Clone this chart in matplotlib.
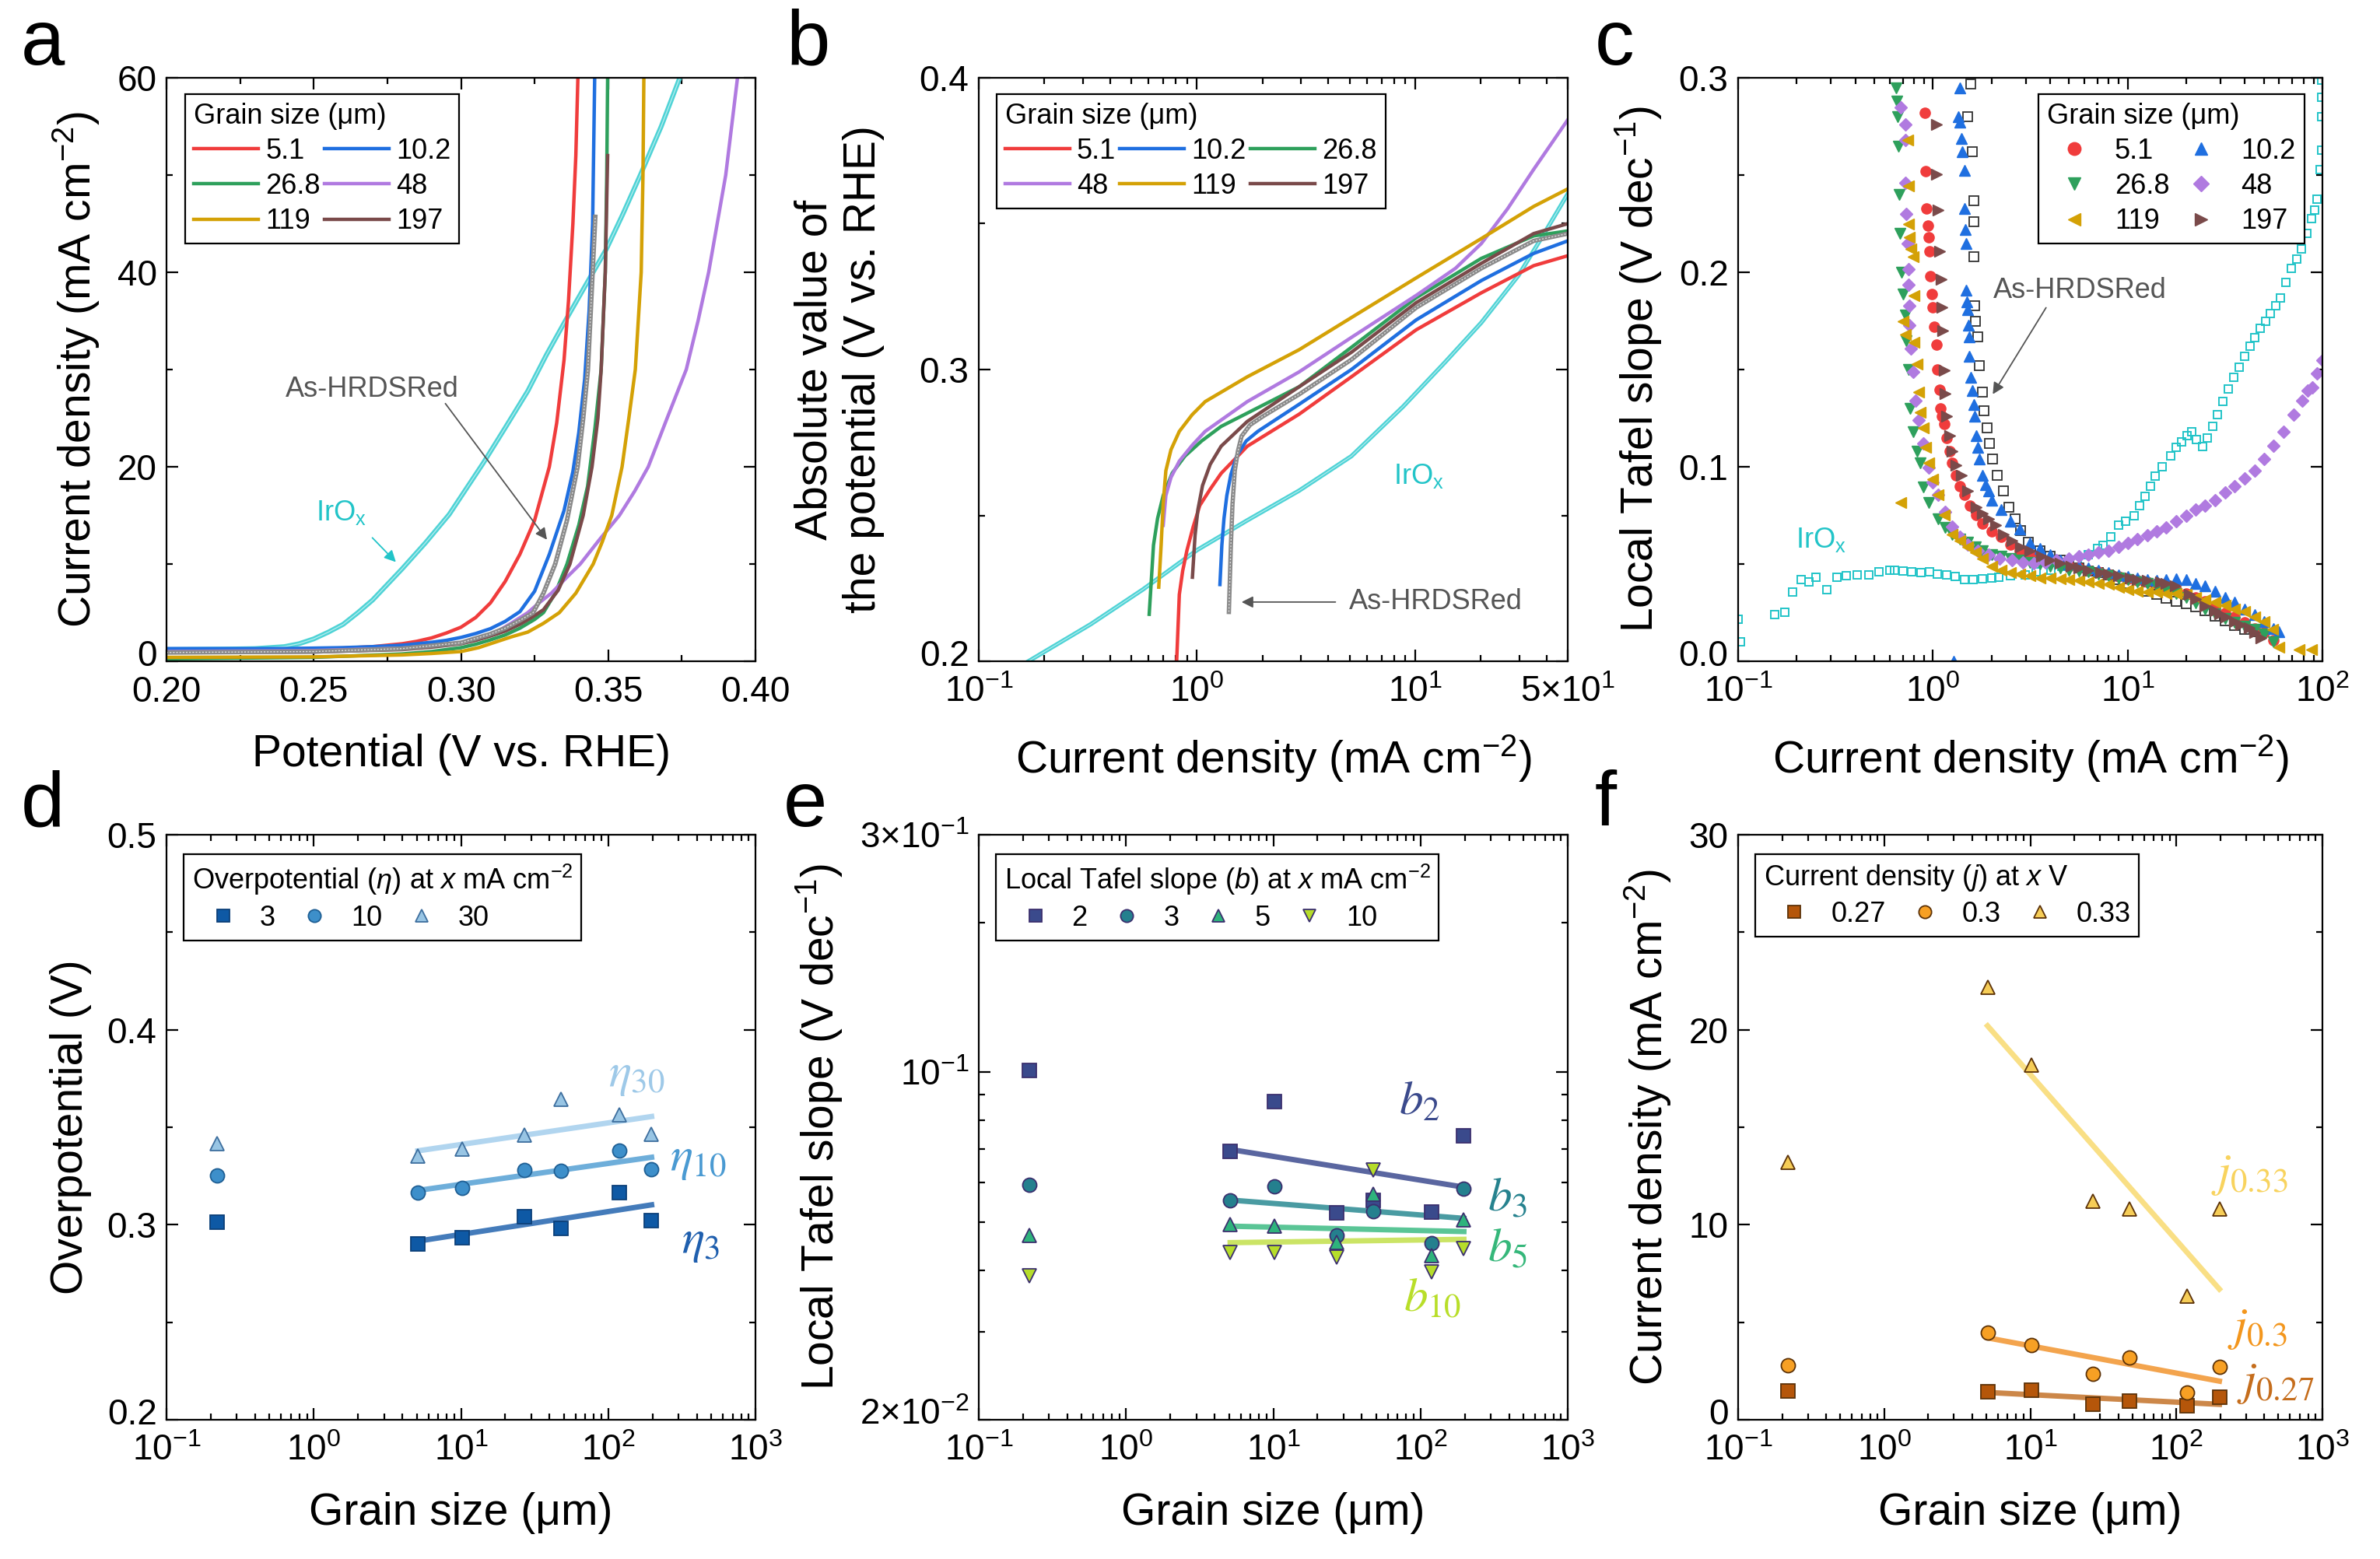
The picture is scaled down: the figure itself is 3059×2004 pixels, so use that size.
import numpy as np
import matplotlib
matplotlib.use("Agg")
import matplotlib.pyplot as plt
from matplotlib.ticker import MultipleLocator, FixedLocator, FixedFormatter, LogLocator, NullFormatter
from matplotlib.transforms import ScaledTranslation

plt.rcParams['font.family'] = ['Liberation Sans', 'DejaVu Sans']
plt.rcParams['mathtext.fontset'] = 'custom'
plt.rcParams['mathtext.rm'] = 'Liberation Sans'
plt.rcParams['mathtext.it'] = 'Liberation Sans:italic'
plt.rcParams['mathtext.bf'] = 'Liberation Sans:bold'

# ---------------- data ----------------
grain_labels = ['5.1', '10.2', '26.8', '48', '119', '197']
grain_colors = ['#f03c3c', '#1f6fe0', '#2ea05c', '#b07ae0', '#d4a106', '#7a4a4a']

# (a) LSV: potential (V vs RHE) and current density (mA cm-2)
lsv_v_51 = [0.20, 0.22, 0.24, 0.26, 0.27, 0.28, 0.285, 0.29, 0.295, 0.30, 0.305, 0.31, 0.315, 0.32, 0.325, 0.33,
            0.3325, 0.335, 0.3365, 0.338, 0.339, 0.3397]
lsv_j_51 = [1.2, 1.2, 1.25, 1.35, 1.5, 1.8, 2.05, 2.4, 2.9, 3.5, 4.5, 6.0, 8.2, 11.0, 14.5, 20, 24.5, 31, 37, 45,
            52, 60]
lsv_v_102 = [0.20, 0.24, 0.26, 0.27, 0.28, 0.29, 0.295, 0.30, 0.305, 0.31, 0.315, 0.32, 0.325, 0.33, 0.335, 0.338,
             0.340, 0.342, 0.3435, 0.3447, 0.3454]
lsv_j_102 = [1.3, 1.3, 1.4, 1.5, 1.65, 1.95, 2.15, 2.45, 2.85, 3.35, 4.1, 5.1, 7.2, 11.0, 15.5, 19.5, 23.5, 29, 36,
             45, 60]
lsv_v_268 = [0.20, 0.25, 0.28, 0.29, 0.30, 0.305, 0.31, 0.315, 0.32, 0.325, 0.328, 0.332, 0.336, 0.340, 0.343,
             0.3455, 0.3476, 0.349, 0.3495, 0.3498]
lsv_j_268 = [0.25, 0.4, 0.75, 1.0, 1.4, 1.75, 2.2, 2.7, 3.4, 4.3, 5.0, 7.0, 10, 14, 18, 24, 30, 40, 50, 60]
lsv_v_48 = [0.20, 0.25, 0.28, 0.29, 0.30, 0.306, 0.312, 0.317, 0.3227, 0.3265, 0.3307, 0.3355, 0.3405, 0.347,
            0.3538, 0.3590, 0.3636, 0.370, 0.3765, 0.3805, 0.3841, 0.3870, 0.3899, 0.3939]
lsv_j_48 = [1.0, 1.1, 1.35, 1.6, 1.9, 2.4, 3.0, 3.9, 5.0, 6.0, 7.0, 8.5, 10, 12.5, 15, 17.5, 20, 25, 30, 35, 40, 45,
            50, 60]
lsv_v_119 = [0.20, 0.25, 0.28, 0.29, 0.30, 0.306, 0.312, 0.317, 0.3227, 0.328, 0.3334, 0.339, 0.3449, 0.348,
             0.3512, 0.3547, 0.357, 0.3592, 0.3612, 0.3618, 0.3621]
lsv_j_119 = [0.4, 0.45, 0.65, 0.8, 1.0, 1.4, 2.0, 2.5, 3.0, 3.9, 5.0, 7.0, 10, 12.3, 15, 20, 25, 30, 40, 50, 60]
lsv_v_197 = [0.20, 0.25, 0.28, 0.29, 0.30, 0.305, 0.31, 0.315, 0.32, 0.324, 0.328, 0.333, 0.337, 0.3415, 0.3445,
             0.3465, 0.3476, 0.349, 0.3498]
lsv_j_197 = [0.9, 0.95, 1.2, 1.45, 1.8, 2.15, 2.6, 3.1, 3.8, 4.5, 5.3, 7.3, 10, 15, 20, 25, 30, 40, 52]
lsv_v_asr = [0.20, 0.25, 0.28, 0.30, 0.31, 0.315, 0.32, 0.3245, 0.328, 0.332, 0.336, 0.3396, 0.3415, 0.3431,
             0.3447, 0.3456]
lsv_j_asr = [0.9, 1.0, 1.3, 1.9, 2.8, 3.4, 4.2, 5.0, 7.0, 10, 14.5, 20, 25, 30, 40, 45.7]
lsv_v_irox = [0.20, 0.22, 0.23, 0.24, 0.245, 0.25, 0.255, 0.26, 0.265, 0.27, 0.275, 0.28, 0.288, 0.296, 0.3076,
              0.315, 0.3227, 0.329, 0.3356, 0.342, 0.3494, 0.355, 0.3609, 0.368, 0.3743]
lsv_j_irox = [1.2, 1.25, 1.3, 1.5, 1.8, 2.3, 3.0, 3.8, 5.0, 6.3, 7.9, 9.5, 12.2, 15.1, 20.4, 24.0, 27.8, 31.5,
              35.1, 38.5, 42.4, 46, 50, 55, 60]

# (b) Tafel: current density and |potential|
taf_j_51 = [0.807, 0.83, 0.86, 0.90, 0.96, 1.03, 1.15, 1.29, 1.70, 2.94, 5.1, 10.1, 20.1, 34.9, 50]
taf_v_51 = [0.200, 0.2229, 0.231, 0.2381, 0.246, 0.2534, 0.259, 0.2644, 0.2737, 0.2847, 0.2975, 0.3136, 0.3263,
            0.3356, 0.339]
taf_j_102 = [1.274, 1.30, 1.33, 1.37, 1.43, 1.52, 1.68, 1.90, 2.94, 5.1, 10.1, 20.1, 34.9, 50]
taf_v_102 = [0.2263, 0.2398, 0.249, 0.2568, 0.264, 0.2703, 0.2755, 0.2788, 0.2881, 0.300, 0.317, 0.3305, 0.3398,
             0.3441]
taf_j_268 = [0.604, 0.632, 0.66, 0.70, 0.77, 0.88, 1.05, 1.29, 2.94, 5.1, 10.1, 20.1, 34.9, 50]
taf_v_268 = [0.2161, 0.2398, 0.249, 0.2568, 0.2645, 0.2703, 0.2755, 0.2805, 0.2941, 0.3076, 0.3246, 0.3381,
             0.3458, 0.3475]
taf_j_48 = [0.70, 0.72, 0.76, 0.83, 0.95, 1.09, 1.70, 2.94, 5.1, 10.1, 15.3, 20.1, 26.5, 34.9, 50]
taf_v_48 = [0.2466, 0.2568, 0.263, 0.2686, 0.274, 0.2788, 0.289, 0.2992, 0.311, 0.3254, 0.3347, 0.3432, 0.3551,
            0.3686, 0.3856]
taf_j_119 = [0.668, 0.685, 0.70, 0.72, 0.76, 0.83, 0.95, 1.09, 1.70, 2.94, 5.1, 10.1, 20.1, 34.9, 50]
taf_v_119 = [0.2254, 0.2398, 0.254, 0.2653, 0.2725, 0.2788, 0.2845, 0.289, 0.2975, 0.3068, 0.3178, 0.3314, 0.3449,
             0.3559, 0.3619]
taf_j_197 = [0.953, 0.98, 1.01, 1.06, 1.15, 1.29, 1.70, 2.94, 5.1, 10.1, 20.1, 34.9, 50]
taf_v_197 = [0.2288, 0.2432, 0.252, 0.2602, 0.2675, 0.2737, 0.2822, 0.2941, 0.3059, 0.3229, 0.3364, 0.3466, 0.350]
taf_j_asr = [1.40, 1.43, 1.455, 1.49, 1.54, 1.60, 1.75, 2.00, 2.94, 5.1, 10.1, 20.1, 34.9, 50]
taf_v_asr = [0.2169, 0.2398, 0.254, 0.2653, 0.272, 0.2771, 0.281, 0.2839, 0.2915, 0.3034, 0.3212, 0.3347, 0.3441,
             0.3466]
taf_j_irox = [0.169, 0.326, 0.565, 1.0, 1.70, 2.94, 5.1, 8.8, 13.7, 20.1, 29.7, 39, 50]
taf_v_irox = [0.200, 0.2127, 0.2246, 0.2381, 0.2483, 0.2585, 0.2703, 0.2873, 0.3025, 0.3161, 0.3322, 0.3466, 0.3602]

# (c) local Tafel slope vs current density
lts_j_51 = [0.906, 0.92, 0.93, 0.94, 0.95, 0.96, 0.97, 0.99, 1.0, 1.02, 1.04, 1.05, 1.08, 1.09, 1.11, 1.14, 1.18,
            1.22, 1.26, 1.31, 1.38, 1.45, 1.55, 1.67, 1.8,
            2, 2.25, 2.5, 2.8, 3.15, 3.55, 4, 4.5, 5, 5.6, 6.3, 7.1, 8, 9, 10, 11.2, 12.6, 14.1, 15.8, 17.8,
            20, 22.4, 25, 28, 31.6, 35.5, 40, 45, 50, 56]
lts_b_51 = [0.282, 0.252, 0.233, 0.224, 0.218, 0.211, 0.198, 0.189, 0.182, 0.172, 0.163, 0.150, 0.1395, 0.130, 0.126,
            0.122, 0.115, 0.108, 0.102, 0.0957, 0.090, 0.0855, 0.080, 0.0754, 0.071,
            0.067, 0.064, 0.060, 0.057, 0.055, 0.053, 0.052, 0.051, 0.049, 0.048, 0.047, 0.046, 0.045, 0.0435, 0.0425,
            0.0415, 0.041, 0.040, 0.038, 0.037, 0.035, 0.033, 0.031, 0.028, 0.025, 0.023, 0.020, 0.017, 0.015, 0.011]
lts_j_102 = [1.28, 1.38, 1.356, 1.38, 1.40, 1.42, 1.45, 1.45, 1.47, 1.48, 1.48, 1.50, 1.51, 1.52, 1.53, 1.53, 1.56,
             1.59, 1.62, 1.64, 1.67, 1.70, 1.73, 1.79, 1.86, 1.93,
             2, 2.25, 2.5, 2.8, 3.15, 3.55, 4, 4.5, 5, 5.6, 6.3, 7.1, 8, 9, 10, 11.2, 12.6, 14.1, 15.8, 17.8,
             20, 22.4, 25, 28, 31.6, 35.5, 40, 45, 50, 56, 60]
lts_b_102 = [0.0, 0.295, 0.280, 0.277, 0.269, 0.262, 0.2526, 0.233, 0.222, 0.215, 0.191, 0.185, 0.181, 0.173, 0.167,
             0.157, 0.146, 0.139, 0.132, 0.126, 0.116, 0.110, 0.104, 0.0957, 0.091, 0.0876,
             0.083, 0.078, 0.072, 0.068, 0.061, 0.058, 0.055, 0.052, 0.050, 0.049, 0.048, 0.047, 0.0455, 0.0445,
             0.0438, 0.043, 0.042, 0.0418, 0.042, 0.0425, 0.042, 0.040, 0.0387, 0.036, 0.033, 0.0306, 0.027, 0.024,
             0.0204, 0.017, 0.0153]
lts_j_268 = [0.65, 0.656, 0.66, 0.665, 0.67, 0.68, 0.69, 0.70, 0.72, 0.73, 0.75, 0.766, 0.79, 0.83, 0.86, 0.89, 0.955,
             1.06, 1.15, 1.26, 1.38, 1.51, 1.65, 1.79,
             2, 2.25, 2.5, 2.8, 3.15, 3.55, 4, 4.5, 5, 5.6, 6.3, 7.1, 8, 9, 10, 11.2, 12.6, 14.1, 15.8, 17.8,
             20, 22.4, 25, 28, 31.6, 35.5, 40, 45, 50, 56]
lts_b_268 = [0.295, 0.288, 0.280, 0.265, 0.24, 0.22, 0.20, 0.189, 0.178, 0.165, 0.150, 0.130, 0.118, 0.108, 0.102,
             0.0896, 0.0815, 0.0733, 0.069, 0.0652, 0.063, 0.0611, 0.059, 0.057,
             0.055, 0.054, 0.053, 0.052, 0.051, 0.050, 0.049, 0.048, 0.047, 0.0465, 0.046, 0.045, 0.044, 0.043,
             0.042, 0.041, 0.040, 0.0387, 0.037, 0.035, 0.033, 0.030, 0.027, 0.0244, 0.022, 0.020, 0.018, 0.0163,
             0.014, 0.0102]
lts_j_48 = [0.685, 0.72, 0.72, 0.72, 0.73, 0.74, 0.75, 0.75, 0.755, 0.76, 0.774, 0.79, 0.816, 0.845, 0.89, 0.955,
            1.0, 1.06, 1.15, 1.26, 1.38, 1.51, 1.7, 1.93,
            2.2, 2.55, 2.9, 3.3, 3.8, 4.3, 5, 5.6, 6.3, 7.1, 8, 9, 10, 11.2, 12.6, 14.1, 15.8, 17.8, 20, 22.4,
            25, 28, 31.6, 35.5, 40, 45, 50, 56, 63, 71, 79, 84, 89, 94, 100]
lts_b_48 = [0.285, 0.276, 0.268, 0.246, 0.230, 0.215, 0.2016, 0.1935, 0.183, 0.173, 0.161, 0.149, 0.134, 0.124,
            0.112, 0.0998, 0.092, 0.0855, 0.077, 0.0693, 0.064, 0.060, 0.057, 0.055,
            0.053, 0.052, 0.051, 0.0505, 0.051, 0.052, 0.053, 0.054, 0.055, 0.056, 0.057, 0.059, 0.061, 0.063,
            0.065, 0.067, 0.069, 0.072, 0.075, 0.078, 0.080, 0.083, 0.087, 0.090, 0.094, 0.098, 0.104, 0.111,
            0.118, 0.127, 0.134, 0.139, 0.141, 0.148, 0.155]
lts_j_119 = [0.685, 0.74, 0.75, 0.75, 0.76, 0.77, 0.79, 0.80, 0.70, 0.72, 0.80, 0.83, 0.845, 0.86, 0.89, 0.92, 0.955,
             1.0, 1.06, 1.14, 1.26, 1.38, 1.51, 1.65, 1.79,
             2, 2.25, 2.5, 2.8, 3.15, 3.55, 4, 4.5, 5, 5.6, 6.3, 7.1, 8, 9, 10, 11.2, 12.6, 14.1, 15.8, 17.8,
             20, 22.4, 25, 28, 31.6, 35.5, 40, 45, 50, 55.6, 59.7, 76, 87.7]
lts_b_119 = [0.0815, 0.268, 0.2444, 0.225, 0.218, 0.212, 0.208, 0.188, 0.175, 0.168, 0.164, 0.153, 0.1385, 0.128,
             0.120, 0.110, 0.102, 0.0937, 0.0855, 0.0754, 0.0652, 0.062, 0.059, 0.056, 0.053,
             0.049, 0.047, 0.0458, 0.045, 0.044, 0.043, 0.0428, 0.0425, 0.042, 0.0418, 0.041, 0.040, 0.0397,
             0.038, 0.0367, 0.036, 0.0356, 0.0355, 0.035, 0.0348, 0.0346, 0.033, 0.0315, 0.0306, 0.029, 0.027,
             0.0255, 0.023, 0.0204, 0.0163, 0.0071, 0.0061, 0.0061]
lts_j_197 = [1.04, 1.04, 1.06, 1.08, 1.10, 1.11, 1.12, 1.14, 1.16, 1.18, 1.22, 1.26, 1.31, 1.40, 1.51, 1.67, 1.8, 1.93,
             2.1, 2.3, 2.55, 2.83, 3.15, 3.62, 4, 4.5, 5.13, 5.6, 6.3, 7.3, 8, 9, 10.3, 11.2, 12.6, 14.7, 15.8, 17.5,
             20.8, 22.4, 24.9, 28, 29.6, 32, 35.3, 38, 42, 45, 48.3]
lts_b_197 = [0.276, 0.2505, 0.232, 0.211, 0.1966, 0.182, 0.170, 0.1497, 0.1375, 0.126, 0.116, 0.108, 0.1008, 0.0957,
             0.0876, 0.0794, 0.076, 0.0733,
             0.070, 0.0652, 0.062, 0.059, 0.057, 0.054, 0.052, 0.0505, 0.0489, 0.048, 0.047, 0.0458, 0.045, 0.044,
             0.0428, 0.042, 0.0415, 0.0407, 0.040, 0.0387, 0.0346, 0.032, 0.0285, 0.026, 0.0244, 0.023, 0.0204,
             0.019, 0.0173, 0.015, 0.0122]
lts_j_asr = [1.57, 1.51, 1.59, 1.62, 1.63, 1.62, 1.64, 1.66, 1.70, 1.73, 1.79, 1.83, 1.89, 1.96, 2.03, 2.14, 2.30,
             2.46, 2.64, 2.83, 3.09,
             3.55, 4, 4.5, 5, 5.6, 6.3, 7.1, 8, 9, 10, 11.2, 12.6, 14.1, 15.8, 17.8, 20, 22.4, 25, 28, 31.6, 35.5,
             40, 45]
lts_b_asr = [0.297, 0.280, 0.262, 0.237, 0.226, 0.208, 0.183, 0.175, 0.167, 0.152, 0.1385, 0.129, 0.120, 0.112,
             0.104, 0.0957, 0.0876, 0.0794, 0.0733, 0.0672, 0.0611,
             0.057, 0.054, 0.052, 0.0495, 0.048, 0.0465, 0.0455, 0.0445, 0.042, 0.040, 0.038, 0.036, 0.0346,
             0.0326, 0.031, 0.0295, 0.028, 0.026, 0.0234, 0.021, 0.0183, 0.0165, 0.0153]
lts_j_irox = [0.1, 0.103, 0.154, 0.174, 0.191, 0.21, 0.23, 0.252, 0.285, 0.323, 0.36, 0.41, 0.467, 0.53, 0.6, 0.636,
              0.7, 0.78, 0.866, 0.96, 1.05, 1.18, 1.3, 1.45, 1.61, 1.8, 2.0, 2.18, 2.5, 2.97, 3.4, 4.04, 4.6, 5.5,
              6.3, 7.0, 7.5, 8.2, 9.0, 9.8, 10.8, 11.5, 12.3, 13.1, 13.9, 15, 16.7, 17.8, 18.9, 20.2, 21.4, 22.6,
              24.2, 25.7, 27.3, 29, 30.9, 33, 35, 37.3, 40, 42.5, 45, 48, 51, 54, 57.5, 61, 65, 69, 73.5, 78, 83,
              88, 91, 94, 97, 99, 99, 99, 99.5]
lts_b_irox = [0.0216, 0.0102, 0.0242, 0.0254, 0.0356, 0.042, 0.041, 0.0432, 0.0369, 0.0432, 0.044, 0.0445, 0.0445,
              0.046, 0.047, 0.047, 0.0465, 0.046, 0.0458, 0.046, 0.045, 0.0445, 0.0435, 0.042, 0.042, 0.0425, 0.043,
              0.0432, 0.044, 0.0445, 0.046, 0.047, 0.049, 0.0521, 0.055, 0.058, 0.0598, 0.064, 0.07, 0.072, 0.075,
              0.08, 0.085, 0.09, 0.0953, 0.10, 0.1055, 0.11, 0.113, 0.116, 0.118, 0.114, 0.1106, 0.115, 0.1208,
              0.127, 0.1335, 0.14, 0.146, 0.1513, 0.157, 0.162, 0.1665, 0.171, 0.175, 0.179, 0.183, 0.187, 0.195,
              0.202, 0.207, 0.212, 0.22, 0.2276, 0.232, 0.2377, 0.253, 0.263, 0.28, 0.29, 0.2988]

# (d)-(f) values vs grain size (0.22 um = As-HRDSRed)
grain_size = [0.22, 5.1, 10.2, 26.8, 48, 119, 197]
fit_x = [5.1, 197]

eta_3 = [0.3013, 0.2903, 0.2934, 0.3043, 0.298, 0.3163, 0.3023]
eta_10 = [0.3254, 0.3163, 0.319, 0.3282, 0.3277, 0.338, 0.3285]
eta_30 = [0.3415, 0.3354, 0.339, 0.346, 0.3644, 0.3563, 0.3466]
eta_3_fit = [0.2916, 0.3102]
eta_10_fit = [0.3176, 0.3346]
eta_30_fit = [0.3379, 0.3555]

b_2 = [0.1007, 0.0693, 0.0871, 0.0522, 0.0553, 0.0523, 0.0744]
b_3 = [0.0593, 0.0553, 0.059, 0.047, 0.0525, 0.0453, 0.0583]
b_5 = [0.0469, 0.0493, 0.049, 0.0454, 0.0568, 0.0427, 0.0504]
b_10 = [0.0389, 0.0434, 0.0434, 0.0424, 0.0635, 0.0397, 0.0441]
b_2_fit = [0.0699, 0.0587]
b_3_fit = [0.0553, 0.0508]
b_5_fit = [0.049, 0.0478]
b_10_fit = [0.0454, 0.0461]

j_027 = [1.48, 1.42, 1.53, 0.79, 0.97, 0.71, 1.15]
j_030 = [2.8, 4.45, 3.82, 2.37, 3.21, 1.4, 2.7]
j_033 = [13.2, 22.2, 18.2, 11.2, 10.8, 6.36, 10.8]
j_027_fit = [1.4, 0.79]
j_030_fit = [4.2, 1.98]
j_033_fit = [20.2, 6.7]

# ---------------- figure ----------------
fig = plt.figure(figsize=(30.59, 20.04), dpi=100)
W, H = 3059, 2004


def px_axes(x0, y0, x1, y1):
    return fig.add_axes([x0 / W, 1 - y1 / H, (x1 - x0) / W, (y1 - y0) / H])


ax_a = px_axes(214, 100, 971, 850)
ax_b = px_axes(1258, 100, 2015, 850)
ax_c = px_axes(2234, 100, 2985, 850)
ax_d = px_axes(214, 1073, 971, 1825)
ax_e = px_axes(1258, 1073, 2015, 1825)
ax_f = px_axes(2234, 1073, 2985, 1825)

TICK_FS = 33
LABEL_FS = 41
LEG_FS = 26
XPAD = 22
YPAD = 14
GREY = '#555555'
CYAN = '#22c4c8'


def style(ax):
    ax.tick_params(which='both', direction='in', top=True, right=True, width=1.6, labelsize=TICK_FS)
    ax.tick_params(which='major', length=11)
    ax.tick_params(which='minor', length=6)
    ax.tick_params(axis='x', pad=13)
    ax.tick_params(axis='y', pad=9)
    for s in ax.spines.values():
        s.set_linewidth(1.6)
    # lift the lowest y tick label a little so it clears the first x tick label
    first = ax.yaxis.get_major_ticks()[0]
    first.label1.set_transform(first.label1.get_transform() + ScaledTranslation(0, 8 / 72, fig.dpi_scale_trans))


def log_x(ax, lo, hi, labels_at, labels):
    ax.set_xscale('log')
    ax.set_xlim(lo, hi)
    ax.xaxis.set_major_locator(FixedLocator(labels_at))
    ax.xaxis.set_major_formatter(FixedFormatter(labels))
    ax.xaxis.set_minor_locator(LogLocator(base=10, subs=np.arange(2, 10), numticks=30))
    ax.xaxis.set_minor_formatter(NullFormatter())


def lin_y(ax, lo, hi, majors, labels, minor):
    ax.set_ylim(lo, hi)
    ax.yaxis.set_major_locator(FixedLocator(majors))
    ax.yaxis.set_major_formatter(FixedFormatter(labels))
    ax.yaxis.set_minor_locator(MultipleLocator(minor))


def boxed_legend(ax, handles, labels, title, loc, anchor, ncol, hl, htp, cs, ms_scale=1.0):
    leg = ax.legend(handles, labels, ncol=ncol, title=title, title_fontsize=LEG_FS, fontsize=LEG_FS,
                    alignment='left', loc=loc, bbox_to_anchor=anchor, borderaxespad=0, frameon=True,
                    fancybox=False, edgecolor='black', framealpha=1, handlelength=hl, handletextpad=htp,
                    columnspacing=cs, labelspacing=0.28, borderpad=0.3, markerscale=ms_scale)
    leg.get_frame().set_linewidth(1.6)
    return leg


def arrow(ax, start, end, color):
    ax.annotate('', xy=end, xytext=start,
                arrowprops=dict(arrowstyle='-|>', color=color, lw=1.3, mutation_scale=22, shrinkA=0, shrinkB=0))


dec_labels = [r'$10^{-1}$', r'$10^{0}$', r'$10^{1}$', r'$10^{2}$', r'$10^{3}$']

# ---- (a) ----
ax = ax_a
lsv_v = [lsv_v_51, lsv_v_102, lsv_v_268, lsv_v_48, lsv_v_119, lsv_v_197]
lsv_j = [lsv_j_51, lsv_j_102, lsv_j_268, lsv_j_48, lsv_j_119, lsv_j_197]
ax.plot(lsv_v_irox, lsv_j_irox, color='#4fd3d6', lw=4.5)
ax.plot(lsv_v_irox, lsv_j_irox, color='white', lw=0.9, alpha=0.6)
handles = []
for v, j, c, lab in zip(lsv_v, lsv_j, grain_colors, grain_labels):
    h, = ax.plot(v, j, color=c, lw=3.2, label=lab)
    handles.append(h)
ax.plot(lsv_v_asr, lsv_j_asr, color='#8a8a8a', lw=4.2)
ax.plot(lsv_v_asr, lsv_j_asr, color='#dddddd', lw=1.0, dashes=(1.5, 1.5))
ax.set_xlim(0.20, 0.40)
ax.xaxis.set_major_locator(FixedLocator([0.20, 0.25, 0.30, 0.35, 0.40]))
ax.xaxis.set_major_formatter(FixedFormatter(['0.20', '0.25', '0.30', '0.35', '0.40']))
ax.xaxis.set_minor_locator(MultipleLocator(0.025))
lin_y(ax, 0, 60, [0, 20, 40, 60], ['0', '20', '40', '60'], 10)
style(ax)
ax.set_xlabel('Potential (V vs. RHE)', fontsize=LABEL_FS, labelpad=XPAD)
ax.set_ylabel(r'Current density (mA cm$^{-2}$)', fontsize=LABEL_FS, labelpad=YPAD)
order = [0, 2, 4, 1, 3, 5]
boxed_legend(ax, [handles[i] for i in order], [grain_labels[i] for i in order], 'Grain size (μm)',
             'upper left', (0.032, 0.972), 2, 2.3, 0.25, 0.15)
ax.text(0.2699, 28.0, 'As-HRDSRed', fontsize=LEG_FS, color=GREY, ha='center', va='center')
arrow(ax, (0.2947, 26.5), (0.3292, 12.5), GREY)
ax.text(0.2593, 15.3, r'IrO$_{\mathregular{x}}$', fontsize=LEG_FS, color=CYAN, ha='center', va='center')
arrow(ax, (0.2699, 12.7), (0.2779, 10.2), CYAN)

# ---- (b) ----
ax = ax_b
taf_j = [taf_j_51, taf_j_102, taf_j_268, taf_j_48, taf_j_119, taf_j_197]
taf_v = [taf_v_51, taf_v_102, taf_v_268, taf_v_48, taf_v_119, taf_v_197]
ax.plot(taf_j_irox, taf_v_irox, color='#4fd3d6', lw=4.0)
ax.plot(taf_j_irox, taf_v_irox, color='white', lw=0.8, alpha=0.6)
handles = []
for j, v, c, lab in zip(taf_j, taf_v, grain_colors, grain_labels):
    h, = ax.plot(j, v, color=c, lw=3.2, label=lab)
    handles.append(h)
ax.plot(taf_j_asr, taf_v_asr, color='#8a8a8a', lw=4.0)
ax.plot(taf_j_asr, taf_v_asr, color='#dddddd', lw=1.0, dashes=(1.5, 1.5))
log_x(ax, 0.1, 50, [0.1, 1, 10, 50], [r'$10^{-1}$', r'$10^{0}$', r'$10^{1}$', r'$5{\times}10^{1}$'])
lin_y(ax, 0.2, 0.4, [0.2, 0.3, 0.4], ['0.2', '0.3', '0.4'], 0.05)
style(ax)
ax.set_xlabel(r'Current density (mA cm$^{-2}$)', fontsize=LABEL_FS, labelpad=XPAD)
ax.set_ylabel('Absolute value of\nthe potential (V vs. RHE)', fontsize=LABEL_FS, labelpad=32, linespacing=1.2)
order = [0, 3, 1, 4, 2, 5]
boxed_legend(ax, [handles[i] for i in order], [grain_labels[i] for i in order], 'Grain size (μm)',
             'upper left', (0.030, 0.972), 3, 2.3, 0.25, 0.15)
ax.text(10.4, 0.2636, r'IrO$_{\mathregular{x}}$', fontsize=LEG_FS, color=CYAN, ha='center', va='center')
ax.text(4.97, 0.2203, 'As-HRDSRed', fontsize=LEG_FS, color=GREY, ha='left', va='center')
arrow(ax, (4.31, 0.2203), (1.60, 0.2203), GREY)

# ---- (c) ----
ax = ax_c
lts_j = [lts_j_51, lts_j_102, lts_j_268, lts_j_48, lts_j_119, lts_j_197]
lts_b = [lts_b_51, lts_b_102, lts_b_268, lts_b_48, lts_b_119, lts_b_197]
c_markers = ['o', '^', 'v', 'D', '<', '>']
c_sizes = [9.5, 9.5, 9.5, 8, 9.5, 9.5]
ax.plot(lts_j_irox, lts_b_irox, ls='none', marker='s', ms=7, mfc='none', mec=CYAN, mew=1.4)
ax.plot(lts_j_asr, lts_b_asr, ls='none', marker='s', ms=8, mfc='white', mec='#333333', mew=1.3)
handles = []
for j, b, c, m, s, lab in zip(lts_j, lts_b, grain_colors, c_markers, c_sizes, grain_labels):
    h, = ax.plot(j, b, ls='none', marker=m, ms=s, color=c, mec=c, label=lab)
    handles.append(h)
log_x(ax, 0.1, 100, [0.1, 1, 10, 100], dec_labels[:4])
lin_y(ax, 0, 0.3, [0.0, 0.1, 0.2, 0.3], ['0.0', '0.1', '0.2', '0.3'], 0.05)
style(ax)
ax.set_xlabel(r'Current density (mA cm$^{-2}$)', fontsize=LABEL_FS, labelpad=XPAD)
ax.set_ylabel(r'Local Tafel slope (V dec$^{-1}$)', fontsize=LABEL_FS, labelpad=YPAD)
order = [0, 2, 4, 1, 3, 5]
boxed_legend(ax, [handles[i] for i in order], [grain_labels[i] for i in order], 'Grain size (μm)',
             'upper right', (0.969, 0.972), 2, 1.95, 0.45, 0.15, ms_scale=1.25)
ax.text(2.05, 0.1907, 'As-HRDSRed', fontsize=LEG_FS, color=GREY, ha='left', va='center')
arrow(ax, (3.81, 0.1818), (2.03, 0.1373), GREY)
ax.text(0.197, 0.0623, r'IrO$_{\mathregular{x}}$', fontsize=LEG_FS, color=CYAN, ha='left', va='center')

MS = 13
LBL_FS = 44

# ---- (d) ----
ax = ax_d
d_series = [(eta_3, eta_3_fit, 's', '#0e59a5', '#0b3f78', '#2f6db3'),
            (eta_10, eta_10_fit, 'o', '#3d8fca', '#1f5f94', '#5ea5d6'),
            (eta_30, eta_30_fit, '^', '#98c5e4', '#3d6e9e', '#a9d1ee')]
handles = []
for vals, fit, m, fc, ec, lc in d_series:
    ax.plot(fit_x, fit, color=lc, lw=5, alpha=0.9, zorder=2)
    h, = ax.plot(grain_size, vals, ls='none', marker=m, ms=MS, mfc=fc, mec=ec, mew=1.3, zorder=3)
    handles.append(h)
log_x(ax, 0.1, 1000, [0.1, 1, 10, 100, 1000], dec_labels)
lin_y(ax, 0.2, 0.5, [0.2, 0.3, 0.4, 0.5], ['0.2', '0.3', '0.4', '0.5'], 0.05)
style(ax)
ax.set_xlabel('Grain size (μm)', fontsize=LABEL_FS, labelpad=XPAD)
ax.set_ylabel('Overpotential (V)', fontsize=LABEL_FS, labelpad=YPAD)
boxed_legend(ax, handles, ['3', '10', '30'], r'Overpotential ($\eta$) at $x$ mA cm$^{-2}$',
             'upper left', (0.029, 0.967), 3, 2.2, 0.2, 0.3, ms_scale=0.9)
ax.text(156, 0.3766, r'$\eta_{30}$', fontsize=LBL_FS, color='#9ec9e8', ha='center', va='center', math_fontfamily='stix')
ax.text(408, 0.3333, r'$\eta_{10}$', fontsize=LBL_FS, color='#4a9ad2', ha='center', va='center', math_fontfamily='stix')
ax.text(425, 0.2913, r'$\eta_{3}$', fontsize=LBL_FS, color='#1f5fae', ha='center', va='center', math_fontfamily='stix')

# ---- (e) ----
ax = ax_e
e_series = [(b_2, b_2_fit, 's', '#3a4a8c', '#3d4b8f'),
            (b_3, b_3_fit, 'o', '#24808e', '#2a8a92'),
            (b_5, b_5_fit, '^', '#2eb37c', '#3dbb84'),
            (b_10, b_10_fit, 'v', '#b6dd2a', '#c2e04a')]
handles = []
for vals, fit, m, fc, lc in e_series:
    ax.plot(fit_x, fit, color=lc, lw=5, alpha=0.85, zorder=2)
    h, = ax.plot(grain_size, vals, ls='none', marker=m, ms=MS, mfc=fc, mec='#3b2f6e', mew=1.3, zorder=3)
    handles.append(h)
log_x(ax, 0.1, 1000, [0.1, 1, 10, 100, 1000], dec_labels)
ax.set_yscale('log')
ax.set_ylim(0.02, 0.3)
ax.yaxis.set_major_locator(FixedLocator([0.02, 0.1, 0.3]))
ax.yaxis.set_major_formatter(FixedFormatter([r'$2{\times}10^{-2}$', r'$10^{-1}$', r'$3{\times}10^{-1}$']))
ax.yaxis.set_minor_locator(LogLocator(base=10, subs=np.arange(2, 10), numticks=30))
ax.yaxis.set_minor_formatter(NullFormatter())
style(ax)
ax.set_xlabel('Grain size (μm)', fontsize=LABEL_FS, labelpad=XPAD)
ax.set_ylabel(r'Local Tafel slope (V dec$^{-1}$)', fontsize=LABEL_FS, labelpad=YPAD)
boxed_legend(ax, handles, ['2', '3', '5', '10'], r'Local Tafel slope ($b$) at $x$ mA cm$^{-2}$',
             'upper left', (0.029, 0.967), 4, 2.2, 0.2, 0.3, ms_scale=0.9)
ax.text(98, 0.0867, r'$b_{2}$', fontsize=LBL_FS, color='#3b4a8c', ha='center', va='center', math_fontfamily='stix')
ax.text(392, 0.0556, r'$b_{3}$', fontsize=LBL_FS, color='#26828e', ha='center', va='center', math_fontfamily='stix')
ax.text(392, 0.0440, r'$b_{5}$', fontsize=LBL_FS, color='#35b77a', ha='center', va='center', math_fontfamily='stix')
ax.text(120, 0.0350, r'$b_{10}$', fontsize=LBL_FS, color='#b8de29', ha='center', va='center', math_fontfamily='stix')

# ---- (f) ----
ax = ax_f
f_series = [(j_027, j_027_fit, 's', '#b5560a', '#c77a35'),
            (j_030, j_030_fit, 'o', '#f7a024', '#f29a3a'),
            (j_033, j_033_fit, '^', '#f6cd57', '#f9dc78')]
handles = []
for vals, fit, m, fc, lc in f_series:
    ax.plot(fit_x, fit, color=lc, lw=5, alpha=0.9, zorder=2)
    h, = ax.plot(grain_size, vals, ls='none', marker=m, ms=MS, mfc=fc, mec='#5c3208', mew=1.3, zorder=3)
    handles.append(h)
log_x(ax, 0.1, 1000, [0.1, 1, 10, 100, 1000], dec_labels)
lin_y(ax, 0, 30, [0, 10, 20, 30], ['0', '10', '20', '30'], 5)
style(ax)
ax.set_xlabel('Grain size (μm)', fontsize=LABEL_FS, labelpad=XPAD)
ax.set_ylabel(r'Current density (mA cm$^{-2}$)', fontsize=LABEL_FS, labelpad=YPAD)
boxed_legend(ax, handles, ['0.27', '0.3', '0.33'], r'Current density ($j$) at $x$ V',
             'upper left', (0.029, 0.967), 3, 2.2, 0.2, 0.3, ms_scale=0.9)
ax.text(316, 12.55, r'$j_{0.33}$', fontsize=LBL_FS, color='#f8d35e', ha='center', va='center', math_fontfamily='stix')
ax.text(358, 4.66, r'$j_{0.3}$', fontsize=LBL_FS, color='#f3961d', ha='center', va='center', math_fontfamily='stix')
ax.text(477, 1.86, r'$j_{0.27}$', fontsize=LBL_FS, color='#c56d1c', ha='center', va='center', math_fontfamily='stix')

# ---- panel letters ----
for lab, x, y in [('a', 27, 83), ('b', 1010, 83), ('c', 2050, 83),
                  ('d', 27, 1062), ('e', 1007, 1062), ('f', 2050, 1062)]:
    fig.text(x / W, 1 - y / H, lab, fontsize=73, ha='left', va='baseline')

fig.savefig('out.png', dpi=100)
